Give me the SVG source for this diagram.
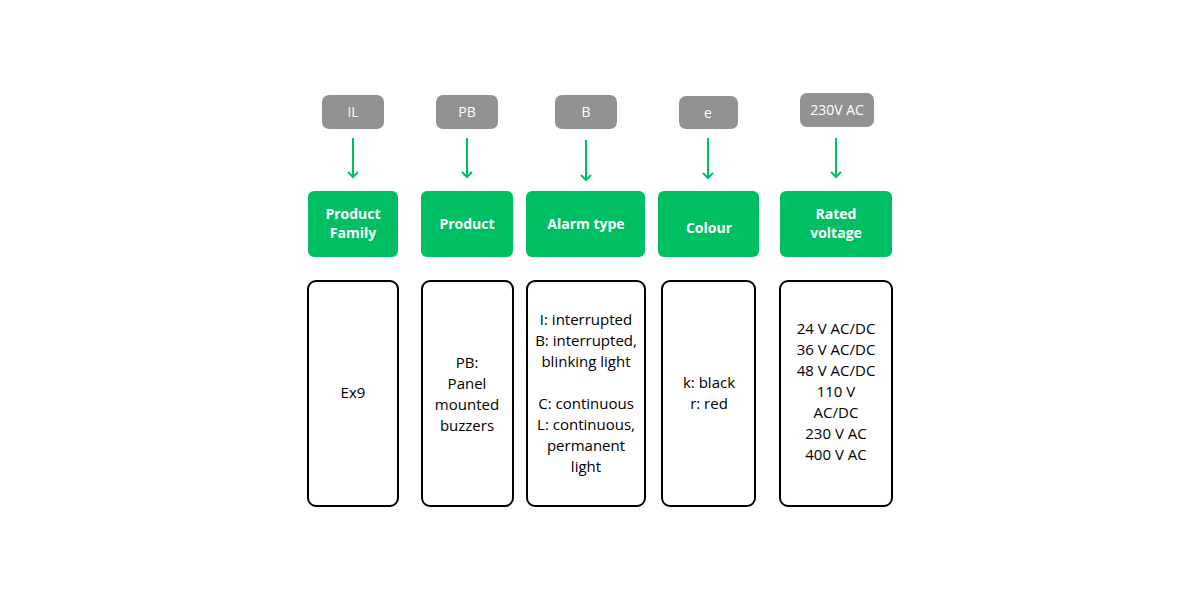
<svg xmlns="http://www.w3.org/2000/svg" width="1200" height="600" viewBox="0 0 1200 600">
<style>
.g{fill:#929292}
.gt{fill:#fff;font-family:"Open Sans",sans-serif;font-size:14px;text-anchor:middle}
.h{fill:#00bf63}
.ht{fill:#fff;font-family:"Open Sans",sans-serif;font-size:14px;font-weight:bold;text-anchor:middle}
.b{fill:#fff;stroke:#000;stroke-width:2}
.bt{fill:#000;font-family:"Open Sans",sans-serif;font-size:15px;text-anchor:middle}
.a{stroke:#00bf63;stroke-width:2;fill:none}
</style>
<rect width="1200" height="600" fill="#fff"/>
<g id="connectors" class="a">
<path d="M353 138V177M348 172L353 177L358 172"/>
<path d="M467 138V177M462 172L467 177L472 172"/>
<path d="M586 140V180M581 175L586 180L591 175"/>
<path d="M708 138V178M703 173L708 178L713 173"/>
<path d="M836 138V177M831 172L836 177L841 172"/>
</g>
<g id="n1">
<rect class="g" x="322" y="95" width="62" height="34" rx="7"/><text class="gt" x="353" y="117">IL</text>
<rect class="h" x="308" y="191" width="90" height="66" rx="6"/><text class="ht" x="353" y="219">Product</text><text class="ht" x="353" y="238">Family</text>
<rect class="b" x="308" y="281" width="90" height="225" rx="8"/><text class="bt" x="353" y="398">Ex9</text>
</g>
<g id="n2">
<rect class="g" x="436" y="95" width="62" height="34" rx="7"/><text class="gt" x="467" y="117">PB</text>
<rect class="h" x="421" y="191" width="92" height="66" rx="6"/><text class="ht" x="467" y="229">Product</text>
<rect class="b" x="422" y="281" width="91" height="225" rx="8"/>
<text class="bt" x="467" y="368">PB:</text><text class="bt" x="467" y="389">Panel</text><text class="bt" x="467" y="410">mounted</text><text class="bt" x="467" y="431">buzzers</text>
</g>
<g id="n3">
<rect class="g" x="555" y="95" width="62" height="34" rx="7"/><text class="gt" x="586" y="117">B</text>
<rect class="h" x="526" y="191" width="119" height="66" rx="6"/><text class="ht" x="586" y="229">Alarm type</text>
<rect class="b" x="527" y="281" width="118" height="225" rx="8"/>
<text class="bt" x="586" y="325">I: interrupted</text><text class="bt" x="586" y="346">B: interrupted,</text><text class="bt" x="586" y="367">blinking light</text>
<text class="bt" x="586" y="409">C: continuous</text><text class="bt" x="586" y="430">L: continuous,</text><text class="bt" x="586" y="451">permanent</text><text class="bt" x="586" y="472">light</text>
</g>
<g id="n4">
<rect class="g" x="679" y="96" width="59" height="33" rx="7"/><text class="gt" x="708" y="118">e</text>
<rect class="h" x="658" y="191" width="101" height="66" rx="6"/><text class="ht" x="709" y="233">Colour</text>
<rect class="b" x="662" y="281" width="93" height="225" rx="8"/>
<text class="bt" x="709" y="388">k: black</text><text class="bt" x="709" y="409">r: red</text>
</g>
<g id="n5">
<rect class="g" x="800" y="93" width="74" height="34" rx="7"/><text class="gt" x="837" y="115">230V AC</text>
<rect class="h" x="780" y="191" width="112" height="66" rx="6"/><text class="ht" x="836" y="219">Rated</text><text class="ht" x="836" y="238">voltage</text>
<rect class="b" x="780" y="281" width="112" height="225" rx="8"/>
<text class="bt" x="836" y="334">24 V AC/DC</text><text class="bt" x="836" y="355">36 V AC/DC</text><text class="bt" x="836" y="376">48 V AC/DC</text><text class="bt" x="836" y="397">110 V</text><text class="bt" x="836" y="418">AC/DC</text><text class="bt" x="836" y="439">230 V AC</text><text class="bt" x="836" y="460">400 V AC</text>
</g>
</svg>
